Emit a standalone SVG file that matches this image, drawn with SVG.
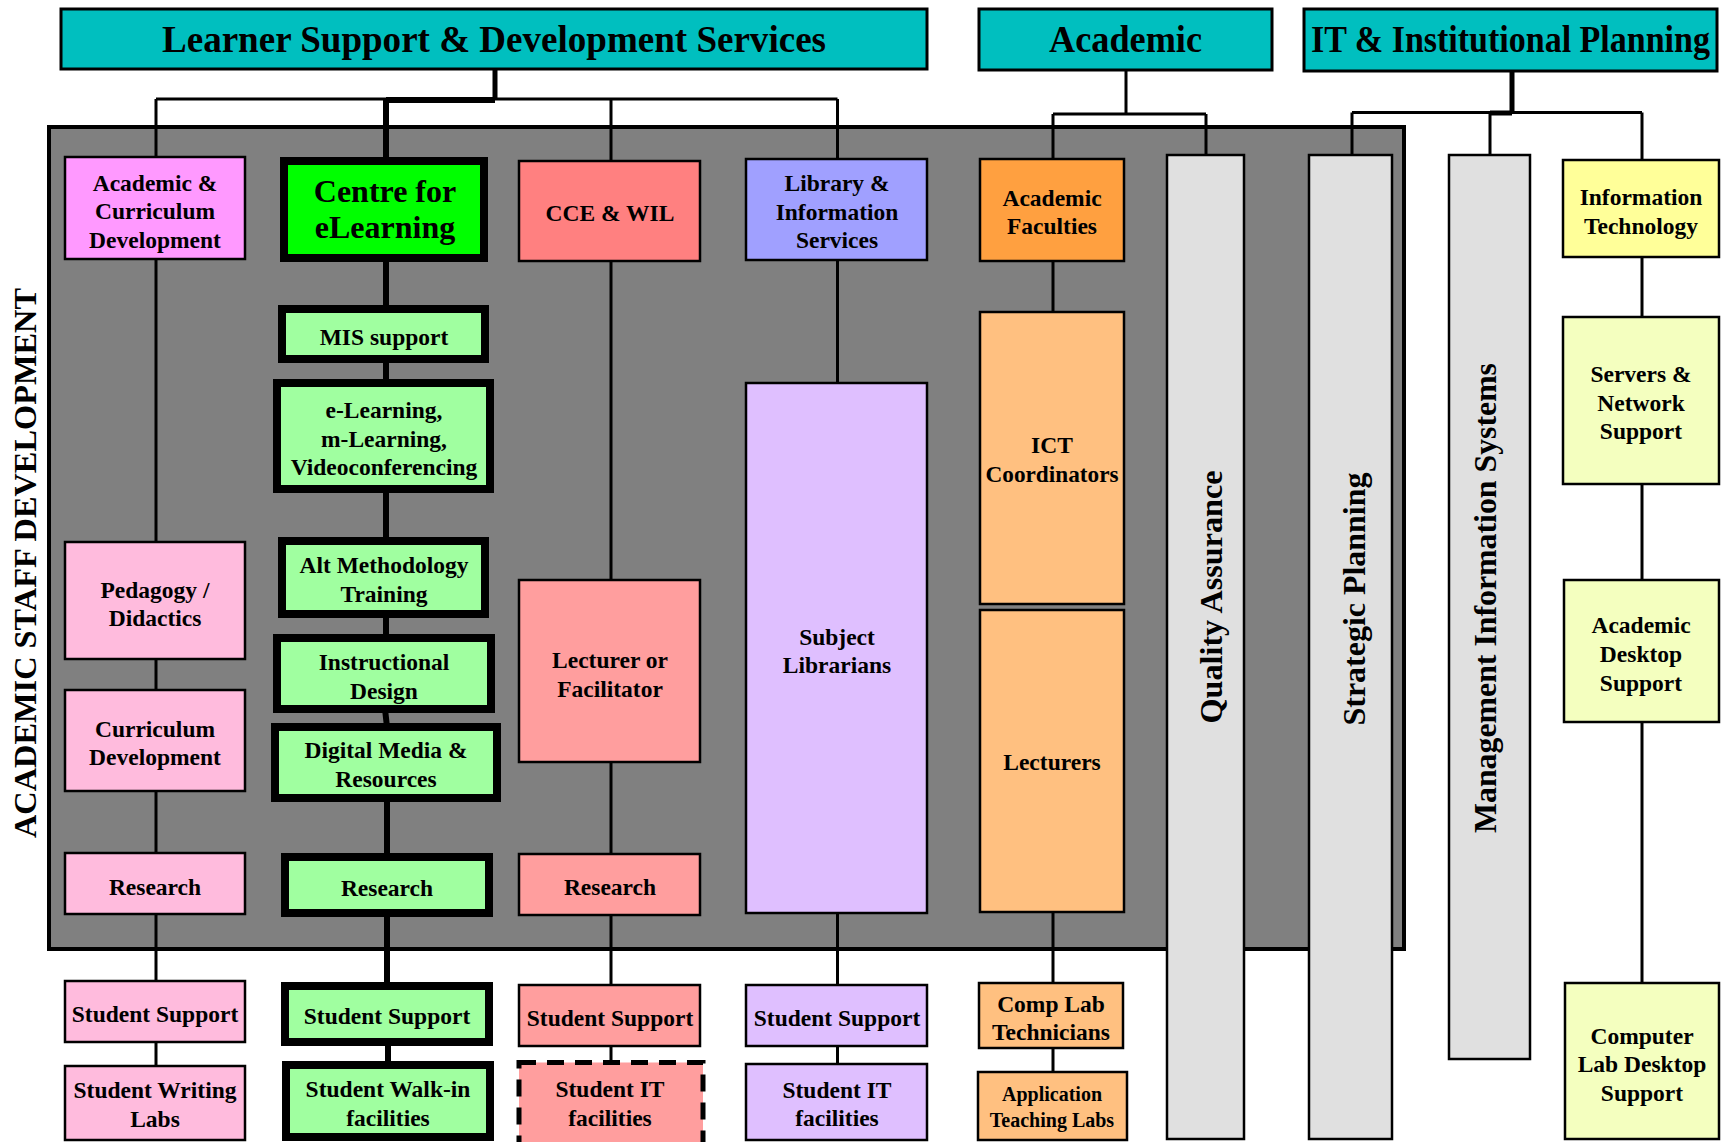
<svg xmlns="http://www.w3.org/2000/svg" width="1725" height="1142" viewBox="0 0 1725 1142">
<style>
text{font-family:"Liberation Serif","Times New Roman",serif;font-weight:bold;fill:#000;text-anchor:middle}
.hdr rect{fill:#00BFBF;stroke:#000;stroke-width:3}
.hdr text{font-size:37px}
.b{stroke:#000;stroke-width:2.5}
.t{stroke:#000;stroke-width:8}
.lbl{font-size:23.5px}
.vt{font-size:32px}
.c{stroke:#000;stroke-width:3;fill:none}
.ck{stroke:#000;stroke-width:6;fill:none}
.p1{fill:#FF99FF}.p2{fill:#FFBBDD}.g1{fill:#00FF00}.g2{fill:#A0FFA0}
.r1{fill:#FF8080}.r2{fill:#FF9E9E}.v1{fill:#A0A0FF}.v2{fill:#DFBFFF}
.o1{fill:#FFA040}.o2{fill:#FFC080}.gy{fill:#E0E0E0}.y1{fill:#FFFF99}.y2{fill:#F4FFBF}
</style>
<rect id="panel" x="49" y="127" width="1355" height="822" fill="#808080" stroke="#000" stroke-width="4"/>
<text class="vt" transform="translate(36,563) rotate(-90)" textLength="550" lengthAdjust="spacingAndGlyphs">ACADEMIC STAFF DEVELOPMENT</text>
<g id="connectors">
<path class="c" d="M156,99 H837.5"/>
<path class="ck" d="M386,100 H495"/>
<path class="ck" style="stroke-width:5" d="M495,70 V100"/>
<path class="c" d="M156,99 V157 M156,260 V542 M156,659 V690 M156,791 V853 M156,914 V981 M156,1042 V1066"/>
<path class="ck" d="M386,100 V161 M386,258 V309 M386,359 V383 M386,489 V541 M386,614 V638 M385,709 L387,727 M387,798 V857 M387,913 V986 M388,1042 V1065"/>
<path class="c" d="M611,99 V161 M611,261 V580 M611,762 V854 M611,915 V985 M611,1046 V1062"/>
<path class="c" d="M837.5,99 V159 M837.5,260 V383 M837.5,913 V985 M837.5,1046 V1064"/>
<path class="c" d="M1126,70 V114 M1053,114 H1206 M1053,114 V159 M1206,114 V155 M1053,261 V312 M1053,912 V983 M1053,1048 V1072"/>
<path class="ck" style="stroke-width:5" d="M1512,71 V113 M1490,113 H1512"/>
<path class="c" d="M1352,112.5 H1642 M1352,112.5 V155 M1490,112.5 V155 M1642,112.5 V160 M1642,257 V317 M1642,484 V580 M1642,722 V983"/>
</g>
<g id="hdr-lsds" class="hdr"><rect x="61" y="9" width="866" height="60"/><text x="494" y="52" textLength="664" lengthAdjust="spacingAndGlyphs">Learner Support &amp; Development Services</text></g>
<g id="hdr-academic" class="hdr"><rect x="979" y="9" width="293" height="61"/><text x="1125.5" y="52" textLength="153" lengthAdjust="spacingAndGlyphs">Academic</text></g>
<g id="hdr-it" class="hdr"><rect x="1304" y="9" width="413" height="62"/><text transform="translate(1510.5,52) scale(1,1.09)" style="font-size:34px">IT &amp; Institutional Planning</text></g>

<g id="acd" class="lbl"><rect class="b p1" x="65" y="157" width="180" height="102"/><text x="155" y="191">Academic &amp;</text><text x="155" y="219">Curriculum</text><text x="155" y="248">Development</text></g>
<g id="pedagogy" class="lbl"><rect class="b p2" x="65" y="542" width="180" height="117"/><text x="155" y="598">Pedagogy /</text><text x="155" y="626">Didactics</text></g>
<g id="curdev" class="lbl"><rect class="b p2" x="65" y="690" width="180" height="101"/><text x="155" y="737">Curriculum</text><text x="155" y="765">Development</text></g>
<g id="research1" class="lbl"><rect class="b p2" x="65" y="853" width="180" height="61"/><text x="155" y="895">Research</text></g>
<g id="stsup1" class="lbl"><rect class="b p2" x="65" y="981" width="180" height="61"/><text x="155" y="1022">Student Support</text></g>
<g id="writing" class="lbl"><rect class="b p2" x="65" y="1066" width="180" height="74"/><text x="155" y="1098">Student Writing</text><text x="155" y="1127">Labs</text></g>

<g id="cel"><rect class="t g1" x="284" y="161" width="200" height="97"/><text x="385" y="202" style="font-size:32px">Centre for</text><text x="385" y="238" style="font-size:32px">eLearning</text></g>
<g id="mis-support" class="lbl"><rect class="t g2" x="282" y="309" width="203" height="50"/><text x="384" y="345">MIS support</text></g>
<g id="elearning" class="lbl"><rect class="t g2" x="277" y="383" width="213" height="106"/><text x="384" y="418">e-Learning,</text><text x="384" y="447">m-Learning,</text><text x="384" y="475">Videoconferencing</text></g>
<g id="altmeth" class="lbl"><rect class="t g2" x="282" y="541" width="203" height="73"/><text x="384" y="573">Alt Methodology</text><text x="384" y="602">Training</text></g>
<g id="instr" class="lbl"><rect class="t g2" x="277" y="638" width="214" height="71"/><text x="384" y="670">Instructional</text><text x="384" y="699">Design</text></g>
<g id="digital" class="lbl"><rect class="t g2" x="275" y="727" width="222" height="71"/><text x="386" y="758">Digital Media &amp;</text><text x="386" y="787">Resources</text></g>
<g id="research2" class="lbl"><rect class="t g2" x="285" y="857" width="204" height="56"/><text x="387" y="896">Research</text></g>
<g id="stsup2" class="lbl"><rect class="t g2" x="285" y="986" width="204" height="56"/><text x="387" y="1024">Student Support</text></g>
<g id="walkin" class="lbl"><rect class="t g2" x="286" y="1065" width="204" height="72"/><text x="388" y="1097">Student Walk-in</text><text x="388" y="1126">facilities</text></g>

<g id="cce" class="lbl"><rect class="b r1" x="519" y="161" width="181" height="100"/><text x="610" y="221">CCE &amp; WIL</text></g>
<g id="lecturer" class="lbl"><rect class="b r2" x="519" y="580" width="181" height="182"/><text x="610" y="668">Lecturer or</text><text x="610" y="697">Facilitator</text></g>
<g id="research3" class="lbl"><rect class="b r2" x="519" y="854" width="181" height="61"/><text x="610" y="895">Research</text></g>
<g id="stsup3" class="lbl"><rect class="b r2" x="519" y="985" width="181" height="61"/><text x="610" y="1026">Student Support</text></g>
<g id="stit3" class="lbl"><rect class="r2" x="519" y="1062.5" width="184" height="85" stroke="#000" stroke-width="5" stroke-dasharray="17 11"/><text x="610" y="1097">Student IT</text><text x="610" y="1126">facilities</text></g>

<g id="library" class="lbl"><rect class="b v1" x="746" y="159" width="181" height="101"/><text x="837" y="191">Library &amp;</text><text x="837" y="220">Information</text><text x="837" y="248">Services</text></g>
<g id="librarians" class="lbl"><rect class="b v2" x="746" y="383" width="181" height="530"/><text x="837" y="645">Subject</text><text x="837" y="673">Librarians</text></g>
<g id="stsup4" class="lbl"><rect class="b v2" x="746" y="985" width="181" height="61"/><text x="837" y="1026">Student Support</text></g>
<g id="stit4" class="lbl"><rect class="b v2" x="746" y="1064" width="181" height="76"/><text x="837" y="1098">Student IT</text><text x="837" y="1126">facilities</text></g>

<g id="faculties" class="lbl"><rect class="b o1" x="980" y="159" width="144" height="102"/><text x="1052" y="206">Academic</text><text x="1052" y="234">Faculties</text></g>
<g id="ict" class="lbl"><rect class="b o2" x="980" y="312" width="144" height="292"/><text x="1052" y="453">ICT</text><text x="1052" y="482" textLength="133" lengthAdjust="spacingAndGlyphs">Coordinators</text></g>
<g id="lecturers" class="lbl"><rect class="b o2" x="980" y="610" width="144" height="302"/><text x="1052" y="770">Lecturers</text></g>
<g id="complab" class="lbl"><rect class="b o2" x="979" y="983" width="144" height="65"/><text x="1051" y="1012">Comp Lab</text><text x="1051" y="1040">Technicians</text></g>
<g id="applabs" style="font-size:20px"><rect class="b o2" x="978" y="1072" width="149" height="68"/><text x="1052" y="1101" style="font-size:20px">Application</text><text x="1052" y="1127" style="font-size:20px">Teaching Labs</text></g>

<g id="qa"><rect class="b gy" x="1167" y="155" width="77" height="984"/><text class="vt" transform="translate(1222,597) rotate(-90)" textLength="253" lengthAdjust="spacingAndGlyphs">Quality Assurance</text></g>
<g id="strategic"><rect class="b gy" x="1309" y="155" width="83" height="984"/><text class="vt" transform="translate(1365,599) rotate(-90)" textLength="253" lengthAdjust="spacingAndGlyphs">Strategic Planning</text></g>
<g id="mis-systems"><rect class="b gy" x="1449" y="155" width="81" height="904"/><text class="vt" transform="translate(1496,598) rotate(-90)" textLength="470" lengthAdjust="spacingAndGlyphs">Management Information Systems</text></g>

<g id="infotech" class="lbl"><rect class="b y1" x="1563" y="160" width="156" height="97"/><text x="1641" y="205">Information</text><text x="1641" y="234">Technology</text></g>
<g id="servers" class="lbl"><rect class="b y2" x="1563" y="317" width="156" height="167"/><text x="1641" y="382">Servers &amp;</text><text x="1641" y="411">Network</text><text x="1641" y="439">Support</text></g>
<g id="acaddesk" class="lbl"><rect class="b y2" x="1564" y="580" width="155" height="142"/><text x="1641" y="633">Academic</text><text x="1641" y="662">Desktop</text><text x="1641" y="691">Support</text></g>
<g id="labdesk" class="lbl"><rect class="b y2" x="1565" y="983" width="154" height="156"/><text x="1642" y="1044">Computer</text><text x="1642" y="1072">Lab Desktop</text><text x="1642" y="1101">Support</text></g>
</svg>
